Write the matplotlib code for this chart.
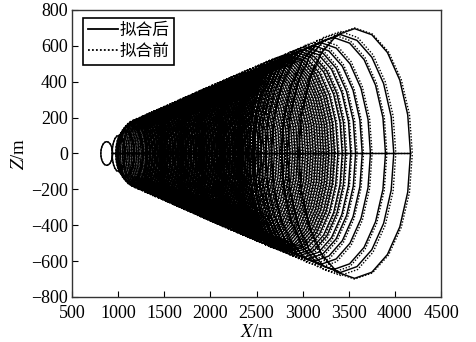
import numpy as np
import matplotlib.pyplot as plt

plt.rcParams['font.family'] = ['Liberation Serif', 'Noto Sans CJK SC']
plt.rcParams['mathtext.fontset'] = 'stix'
plt.rcParams['axes.unicode_minus'] = True

# Each loop of the trajectory: x of the loop centre,
# half width along X and half height along Z (all in metres).
ring_x = [876, 1005, 1075,
          1130, 1160, 1185, 1210, 1232, 1256, 1280, 1303, 1327, 1350,
          1374, 1398, 1421, 1445, 1469, 1492, 1516, 1540, 1563, 1587,
          1611, 1634, 1658, 1682, 1705, 1729, 1753, 1776, 1800, 1824,
          1847, 1871, 1895, 1918, 1942, 1966, 1989, 2013, 2037, 2060,
          2084, 2108, 2131, 2155, 2179, 2202, 2226, 2250, 2273, 2297,
          2321, 2344, 2368, 2392, 2415, 2439, 2463, 2486, 2510, 2534,
          2557, 2581, 2605, 2628, 2652, 2676, 2699, 2723, 2747, 2770,
          2794, 2818, 2845, 2870, 2900, 2940, 2970, 3017, 3062, 3123,
          3198, 3335, 3411, 3563]
ring_w = [64, 70, 100,
          139, 153, 161, 165, 170, 174, 178, 183, 187, 191,
          196, 201, 205, 210, 214, 218, 223, 227, 231, 236,
          240, 244, 249, 254, 258, 263, 267, 271, 276, 280,
          284, 289, 293, 298, 303, 307, 311, 316, 320, 325,
          329, 333, 338, 342, 346, 351, 356, 360, 365, 369,
          373, 378, 382, 386, 391, 395, 400, 405, 409, 413,
          418, 422, 426, 431, 435, 439, 444, 448, 453, 458,
          462, 466, 472, 476, 482, 489, 495, 504, 512, 523,
          537, 563, 577, 606]
ring_h = [66, 100, 128,
          160, 176, 185, 190, 195, 200, 205, 210, 215, 220,
          225, 231, 236, 241, 246, 251, 256, 261, 266, 271,
          276, 281, 286, 292, 297, 302, 307, 312, 317, 322,
          327, 332, 337, 342, 348, 353, 358, 363, 368, 373,
          378, 383, 388, 393, 398, 403, 409, 414, 419, 424,
          429, 434, 439, 444, 449, 454, 460, 465, 470, 475,
          480, 485, 490, 495, 500, 505, 510, 515, 521, 526,
          531, 536, 542, 547, 554, 562, 569, 579, 588, 601,
          618, 647, 663, 696]

# Before fitting: small differences from the fitted loops
before_dw = [0, 2, 3,
             2, 4, 3, 5, 2, 4, 6, 3, 5, 4,
             6, 3, 5, 7, 4, 6, 5, 8, 5, 7,
             6, 9, 6, 8, 7, 10, 6, 9, 8, 11,
             7, 10, 9, 12, 8, 11, 10, 13, 9, 12,
             10, 13, 11, 8, 12, 10, 14, 9, 12, 11,
             13, 10, 14, 12, 9, 13, 11, 15, 12, 10,
             14, 12, 16, 11, 13, 15, 12, 14, 16, 13,
             15, 12, 14, 10, 13, 11, 15, 12, 16, 14,
             18, 15, 22, 20]
before_dh = [0, 2, 2,
             3, 3, 4, 3, 5, 4, 4, 5, 4, 6,
             5, 6, 5, 7, 6, 6, 7, 6, 8, 7,
             8, 7, 9, 8, 9, 8, 10, 9, 10, 9,
             11, 10, 11, 10, 12, 11, 12, 11, 13, 12,
             12, 14, 13, 11, 14, 12, 13, 15, 12, 14,
             13, 15, 12, 14, 16, 13, 15, 14, 12, 16,
             14, 13, 15, 17, 14, 16, 13, 15, 17, 14,
             16, 15, 12, 14, 13, 14, 13, 15, 14, 16,
             16, 15, 17, 4]

N_SIDES = 20


def loops(xs, ws, hs):
    t = np.linspace(0, 2 * np.pi, N_SIDES + 1)
    px, pz = [], []
    for xc, w, h in zip(xs, ws, hs):
        px.append(xc + w * np.cos(t))
        pz.append(h * np.sin(t))
    return np.concatenate(px), np.concatenate(pz)


after_x, after_z = loops(ring_x, ring_w, ring_h)
before_x, before_z = loops(ring_x,
                           [w + d for w, d in zip(ring_w, before_dw)],
                           [h + d for h, d in zip(ring_h, before_dh)])

fig = plt.figure(figsize=(4.76, 3.42), dpi=100)
ax = fig.add_axes([0.1513, 0.1316, 0.7752, 0.8392])

ax.plot(after_x, after_z, color='black', linewidth=1.05, label='拟合后')
ax.plot(before_x, before_z, color='black', linewidth=1.0,
        linestyle=(0, (1, 1.2)), label='拟合前')

ax.set_xlim(500, 4500)
ax.set_ylim(-800, 800)
ax.set_xticks(np.arange(500, 4501, 500))
ax.set_yticks(np.arange(-800, 801, 200))
ax.tick_params(direction='in', length=4, width=0.8, labelsize=13,
               top=False, right=False)
ax.tick_params(axis='x', pad=6)
ax.tick_params(axis='y', pad=3)
for s in ax.spines.values():
    s.set_color('#333333')
    s.set_linewidth(1.0)

ax.set_xlabel(r'$X$/m', fontsize=13.5, labelpad=1)
ax.set_ylabel(r'$Z$/m', fontsize=13.5, labelpad=2)

leg = ax.legend(loc='upper left', bbox_to_anchor=(0.029, 0.971),
                borderaxespad=0, fontsize=12, handlelength=1.8,
                handletextpad=0.1, labelspacing=0.3, borderpad=0.3,
                fancybox=False, framealpha=1, edgecolor='black')
leg.get_frame().set_linewidth(1.2)
for line in leg.get_lines():
    line.set_linewidth(1.3)

fig.savefig('out.png', dpi=100)
